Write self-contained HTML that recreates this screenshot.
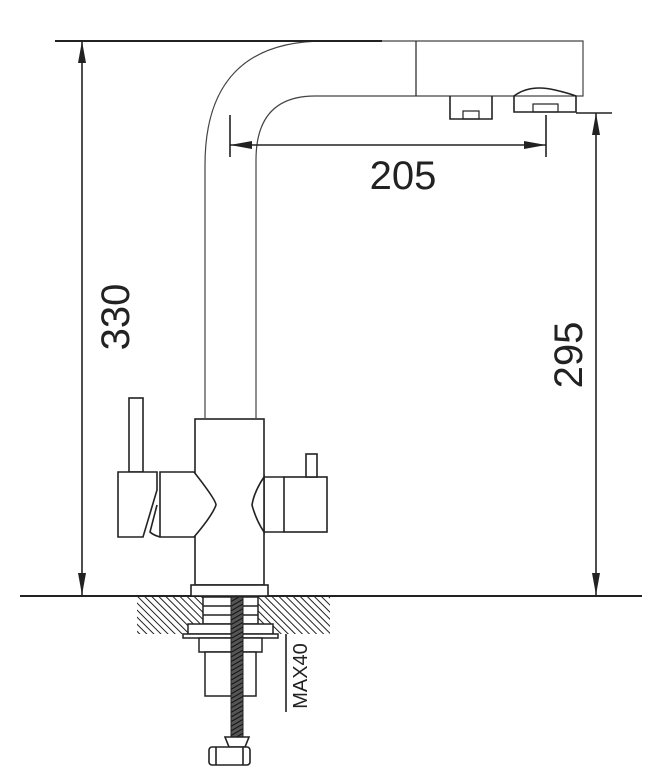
<!DOCTYPE html>
<html><head><meta charset="utf-8"><style>html,body{margin:0;padding:0;background:#fff}svg{display:block}</style></head>
<body>
<svg width="666" height="783" viewBox="0 0 666 783" xmlns="http://www.w3.org/2000/svg">
<defs>
<pattern id="h" width="5" height="5" patternUnits="userSpaceOnUse" patternTransform="rotate(-45)">
<rect width="5" height="5" fill="#fff"/><line x1="0" y1="0" x2="0" y2="5" stroke="#222" stroke-width="2"/>
</pattern>
<pattern id="t" width="4" height="4" patternUnits="userSpaceOnUse" patternTransform="rotate(-30)">
<rect width="4" height="4" fill="#555"/><line x1="0" y1="0" x2="4" y2="0" stroke="#111" stroke-width="2"/>
</pattern>
</defs>
<g fill="none" stroke="#222" stroke-width="1.2">
<path d="M205 418 L205 165 Q205 41 325 41 L583 41 L583 96 L315 96 Q256 96 256 160 L256 418" stroke="#444"/>
<line x1="416" y1="41" x2="416" y2="96"/>
<path d="M450 96 L450 119 L492 119 L492 96" stroke-width="1.6"/>
<rect x="463" y="111" width="16" height="8"/>
<path d="M514 96 Q530 84 555 90 Q568 93 576 96 L576 112 L514 112 Z" stroke-width="1.6"/>
<rect x="533" y="104" width="25" height="8"/>
</g>
<g stroke="#222" stroke-width="1.6" fill="none">
<line x1="55" y1="41" x2="382" y2="41" stroke-width="2"/>
<line x1="82" y1="41" x2="82" y2="595"/>
<line x1="230" y1="115" x2="230" y2="157"/>
<line x1="546" y1="115" x2="546" y2="157"/>
<line x1="230" y1="145" x2="546" y2="145"/>
<line x1="576" y1="113" x2="612" y2="113"/>
<line x1="596" y1="113" x2="596" y2="595"/>
<line x1="20" y1="596" x2="642" y2="596" stroke-width="2"/>
<line x1="286" y1="597" x2="286" y2="712"/>
</g>
<g fill="#222">
<path d="M82 41 l-4 22 l8 0z"/><path d="M82 595 l-4 -22 l8 0z"/>
<path d="M230 145 l22 -4 l0 8z"/><path d="M546 145 l-22 -4 l0 8z"/>
<path d="M596 113 l-4 22 l8 0z"/><path d="M596 595 l-4 -22 l8 0z"/>
<path d="M286 597 l-3 14 l6 0z"/>
</g>
<g font-family="'Liberation Sans', sans-serif" font-size="40" fill="#222">
<text x="403" y="189" text-anchor="middle">205</text>
<text transform="translate(129 317) rotate(-90)" text-anchor="middle">330</text>
<text transform="translate(582 355) rotate(-90)" text-anchor="middle">295</text>
<text transform="translate(307 676) rotate(-90)" text-anchor="middle" font-size="20">MAX40</text>
</g>
<g fill="#fff" stroke="#222" stroke-width="1.6">
<rect x="129" y="398" width="14" height="74"/>
<rect x="195" y="419" width="69" height="166"/>
<path d="M118 472 L157 472 L157 490 L143 537 L118 537 Z"/>
<path d="M160 472 L194 472 Q216 500 216 505 Q212 516 194 537 L160 537 Z"/>
<path d="M157 505 L150 532 Q153 535 160 537" fill="none"/>
<path d="M264 477 Q254 492 252 505 Q256 520 264 532 Z"/>
<rect x="284" y="477" width="43" height="55"/>
<path d="M264 477 L284 477 M264 532 L284 532" fill="none"/>
<rect x="306" y="454" width="11" height="23"/>
<rect x="191" y="585" width="77" height="11"/>
</g>
<rect x="137" y="597" width="193" height="37" fill="url(#h)"/>
<g fill="#fff" stroke="#222" stroke-width="1.5">
<rect x="203" y="597" width="55" height="37"/>
<line x1="203" y1="606" x2="258" y2="606"/>
<line x1="203" y1="615" x2="258" y2="615"/>
<line x1="203" y1="624" x2="258" y2="624"/>
<rect x="188" y="624" width="85" height="10"/>
<rect x="183" y="634" width="95" height="4"/>
<rect x="199" y="638" width="63" height="14"/>
<rect x="205" y="652" width="51" height="44"/>
</g>
<rect x="231" y="597" width="12" height="140" fill="url(#t)" stroke="#222"/>
<g fill="#fff" stroke="#222" stroke-width="1.6">
<path d="M225 737 L249 737 L245 747 L229 747 Z"/>
<rect x="209" y="747" width="41" height="18" rx="3"/>
<line x1="216" y1="747" x2="216" y2="765"/><line x1="243" y1="747" x2="243" y2="765"/>
</g>
</svg>
</body></html>
